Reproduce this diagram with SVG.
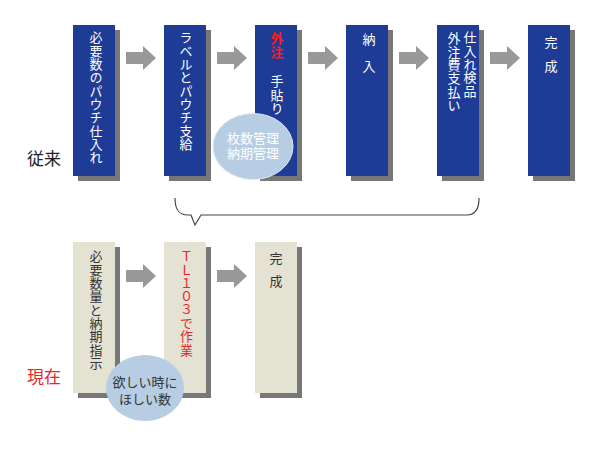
<svg xmlns="http://www.w3.org/2000/svg" width="600" height="450" viewBox="0 0 600 450">
<style>
.sh{fill:#777777}
.bb{fill:#1e3c96}
.bg{fill:#e4e2d2}
.v{font-family:"Noto Sans CJK JP","Noto Sans",sans-serif;font-size:13px;writing-mode:vertical-rl;text-orientation:upright;letter-spacing:0.3px}
.w{fill:#ffffff}
.d{fill:#333333}
.r{fill:#e8262a}
.h{font-family:"Noto Sans CJK JP","Noto Sans",sans-serif;font-size:13px;text-anchor:middle}
.lbl{font-family:"Noto Sans CJK JP","Noto Sans",sans-serif;font-size:17px}
.arr{fill:#999999}
.el{fill:#b6cde3}
</style>
<rect width="600" height="450" fill="#ffffff"/>
<g id="connectors">
<polygon class="arr" points="126,52 143,52 143,46 156,58 143,70 143,64 126,64"/>
<polygon class="arr" points="217,52 234,52 234,46 247,58 234,70 234,64 217,64"/>
<polygon class="arr" points="308,52 325,52 325,46 338,58 325,70 325,64 308,64"/>
<polygon class="arr" points="399,52 416,52 416,46 429,58 416,70 416,64 399,64"/>
<polygon class="arr" points="490,52 507,52 507,46 520,58 507,70 507,64 490,64"/>
<polygon class="arr" points="126,270 143,270 143,264 156,276 143,288 143,282 126,282"/>
<polygon class="arr" points="217,270 234,270 234,264 247,276 234,288 234,282 217,282"/>
<path d="M175,198 C175,210 179,215 188,215 L191,215 L195,225 L201,215 L467,215 C475,215 479,210 479,198" fill="none" stroke="#444444" stroke-width="1.2"/>
</g>
<g id="label-before"><text class="lbl" x="27" y="165" fill="#222222">従来</text></g>
<g id="label-now"><text class="lbl r" x="27" y="383">現在</text></g>
<g id="t1">
<rect class="sh" x="78" y="30" width="42" height="151"/>
<rect class="bb" x="73" y="25" width="42" height="151"/>
<text class="v w" x="96" y="31">必要数のパウチ仕入れ</text>
</g>
<g id="t2">
<rect class="sh" x="169" y="30" width="42" height="151"/>
<rect class="bb" x="164" y="25" width="42" height="151"/>
<text class="v w" x="186" y="31">ラベルとパウチ支給</text>
</g>
<g id="t3">
<rect class="sh" x="260" y="30" width="42" height="151"/>
<rect class="bb" x="255" y="25" width="42" height="151"/>
<text class="v r" x="277" y="32" font-weight="bold" style="fill:#ff1a1a">外注</text>
<text class="v w" x="277" y="75">手貼り</text>
</g>
<g id="t4">
<rect class="sh" x="351" y="30" width="42" height="151"/>
<rect class="bb" x="346" y="25" width="42" height="151"/>
<text class="v w" x="369" y="33" style="letter-spacing:14px">納入</text>
</g>
<g id="t5">
<rect class="sh" x="442" y="30" width="42" height="151"/>
<rect class="bb" x="437" y="25" width="42" height="151"/>
<text class="v w" x="470" y="31">仕入れ検品</text>
<text class="v w" x="454" y="32">外注費支払い</text>
</g>
<g id="t6">
<rect class="sh" x="533" y="30" width="42" height="151"/>
<rect class="bb" x="528" y="25" width="42" height="151"/>
<text class="v w" x="551" y="36" style="letter-spacing:11px">完成</text>
</g>
<g id="e1">
<ellipse class="el" cx="253" cy="146.5" rx="40" ry="33" stroke="#dfe8f2" stroke-width="1"/>
<text class="h w"><tspan x="253" y="143">枚数管理</tspan><tspan x="253" y="158">納期管理</tspan></text>
</g>
<g id="b1">
<rect class="sh" x="78" y="247" width="42" height="151"/>
<rect class="bg" x="73" y="242" width="42" height="151"/>
<text class="v d" x="96" y="250">必要数量と納期指示</text>
</g>
<g id="b2">
<rect class="sh" x="169" y="247" width="42" height="151"/>
<rect class="bg" x="164" y="242" width="42" height="151"/>
<text class="v r" x="186.5" y="250">ＴＬ１０３で作業</text>
</g>
<g id="b3">
<rect class="sh" x="260" y="247" width="42" height="151"/>
<rect class="bg" x="255" y="242" width="42" height="151"/>
<text class="v d" x="276" y="252" style="letter-spacing:10px">完成</text>
</g>
<g id="e2">
<ellipse class="el" cx="145" cy="388" rx="39" ry="33"/>
<text class="h d"><tspan x="145" y="387">欲しい時に</tspan><tspan x="145" y="404">ほしい数</tspan></text>
</g>
</svg>
